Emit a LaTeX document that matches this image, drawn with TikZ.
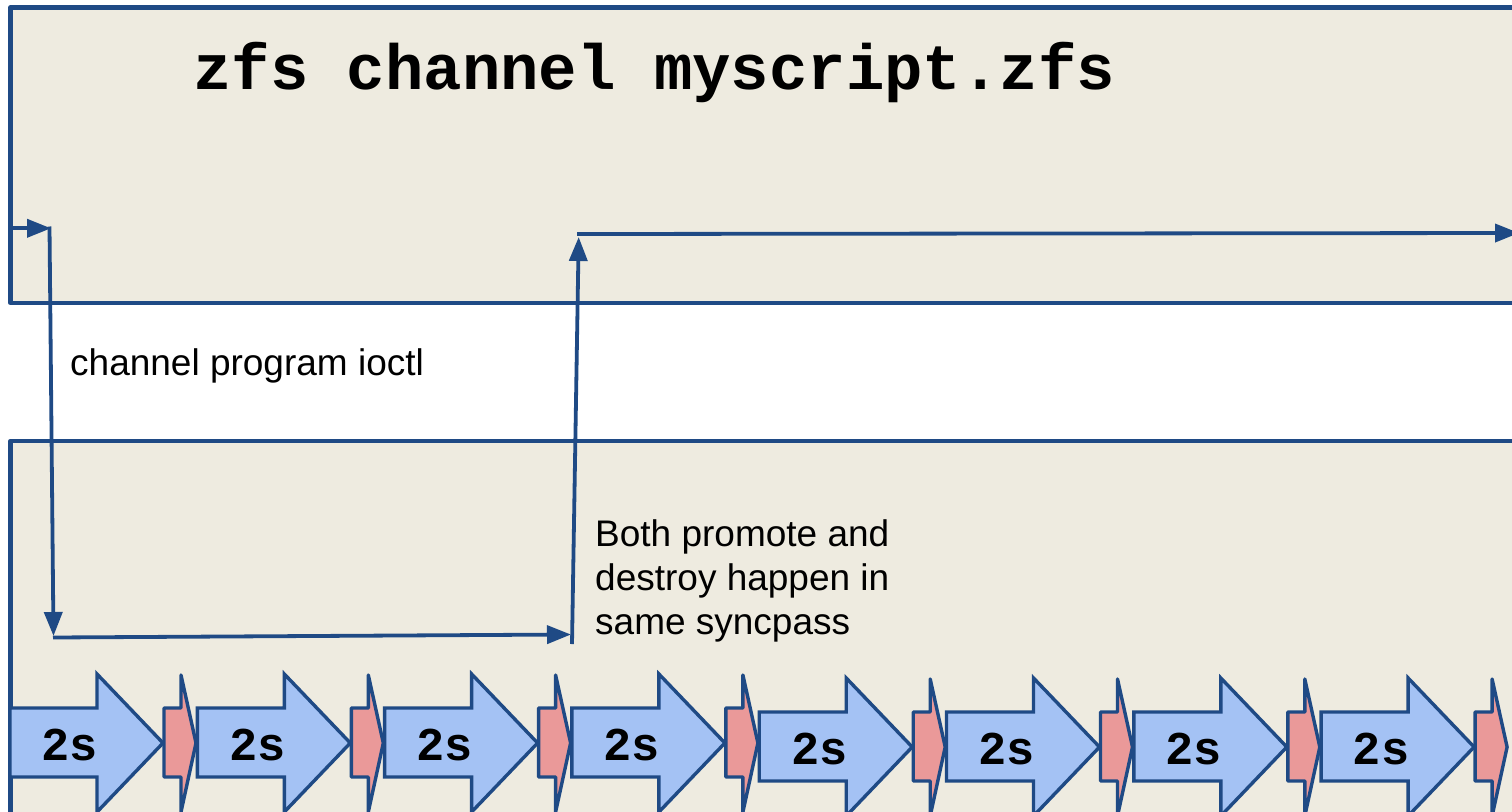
\documentclass[tikz,border=0pt]{standalone}
\usepackage{fontspec}
\setmainfont{Liberation Sans}
\setmonofont{Liberation Mono}
\usetikzlibrary{arrows.meta}
\definecolor{edge}{HTML}{1F4A85}
\definecolor{panelfill}{HTML}{EEEBE0}
\definecolor{slotblue}{HTML}{A4C2F4}
\definecolor{slotred}{HTML}{EA9999}

\begin{document}
\begin{tikzpicture}[x=1pt,y=-1pt,
  panel/.style={draw=edge, fill=panelfill, line width=4.3pt, line join=round,
    inner sep=0pt, outer sep=0pt, anchor=north west},
  flow/.style={draw=edge, line width=3.8pt, -{Triangle[length=24pt,width=18pt]}},
  slot/.style={draw=edge, fill=slotblue, line width=3.4pt},
  gap/.style={draw=edge, fill=slotred, line width=3.4pt, line join=round},
  slotlabel/.style={font=\ttfamily\bfseries\fontsize{47}{47}\selectfont,
    inner sep=0pt, anchor=base},
  note/.style={font=\fontsize{37}{44}\selectfont, inner sep=0pt,
    anchor=base west, align=left}]

\fill[white] (0,0) rectangle (1512,811);
\clip (0,0) rectangle (1512,811);

% user space and kernel panels
\node[panel, minimum width=1540pt, minimum height=295.5pt] (user) at (10.5,7.5) {};
\node[panel, minimum width=1540pt, minimum height=420pt] (kernel) at (10.5,441) {};

\node[anchor=base west, inner sep=0pt,
  font=\ttfamily\bfseries\fontsize{64}{64}\selectfont] (title)
  at (193,89) {zfs channel myscript.zfs};

% txg timeline: sync slots and gaps
\foreach \i in {0,...,7} {
  \pgfmathsetmacro{\L}{10+187.3*\i}
  \pgfmathsetmacro{\R}{164+187.3*\i}
  \pgfmathsetmacro{\dy}{\i>3 ? 4 : 0}
  \path[slot] (\L,708+\dy) -- (\L+87,708+\dy) -- (\L+87,674+\dy) -- (\L+153,743+\dy)
    -- (\L+87,812+\dy) -- (\L+87,777+\dy) -- (\L,777+\dy) -- cycle;
  \path[gap] (\R,708+\dy) -- (\R+17,708+\dy) -- (\R+17,675+\dy) -- (\R+32,743+\dy)
    -- (\R+17,812+\dy) -- (\R+17,777+\dy) -- (\R,777+\dy) -- cycle;
  \node[slotlabel] (slot\i) at (\L+60,760+\dy) {2s};
}

% control flow of the channel program
\coordinate (c0) at (10.5,228.3);
\coordinate (c1) at (51,228.3);
\coordinate (c2) at (49.5,226.5);
\coordinate (c3) at (53.5,636);
\coordinate (c4) at (53,637.5);
\coordinate (c5) at (571,634.5);
\coordinate (c6) at (572,644);
\coordinate (c7) at (578.7,237);
\coordinate (c8) at (577,234);
\coordinate (c9) at (1519,233);
\draw[flow] (c0) -- (c1);
\draw[flow] (c2) -- (c3);
\draw[flow] (c4) -- (c5);
\draw[flow] (c6) -- (c7);
\draw[flow] (c8) -- (c9);

\node[note] (ioctl) at (70,375) {channel program ioctl};
\node[note, anchor=north west] (syncnote) at (595,519)
  {Both promote and\\destroy happen in\\same syncpass};
\end{tikzpicture}
\end{document}
